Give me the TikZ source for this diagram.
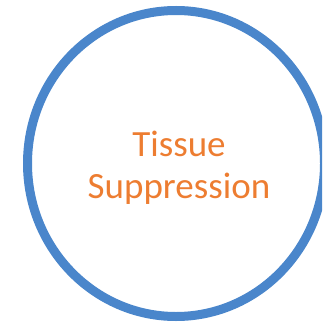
\documentclass[tikz,border=0pt]{standalone}
\usepackage{fontspec}
\setmainfont{Carlito}
\definecolor{ringblue}{HTML}{4A86CB}
\definecolor{txtorange}{HTML}{ED7D31}
\tikzset{ring/.style={draw=ringblue,line width=9pt},
  label/.style={text=txtorange,font=\fontsize{37}{42}\selectfont,align=center}}
\begin{document}
\begin{tikzpicture}[x=1pt,y=1pt]
\useasboundingbox (0,0) rectangle (322,-323);
\begin{scope}
\clip (0,0) rectangle (322,-323);
\draw[ring] (176,-163.5) ellipse [x radius=148.5,y radius=153];
\end{scope}
\node[label] (t) at (179,-168) {Tissue\\Suppression};
\end{tikzpicture}
\end{document}
